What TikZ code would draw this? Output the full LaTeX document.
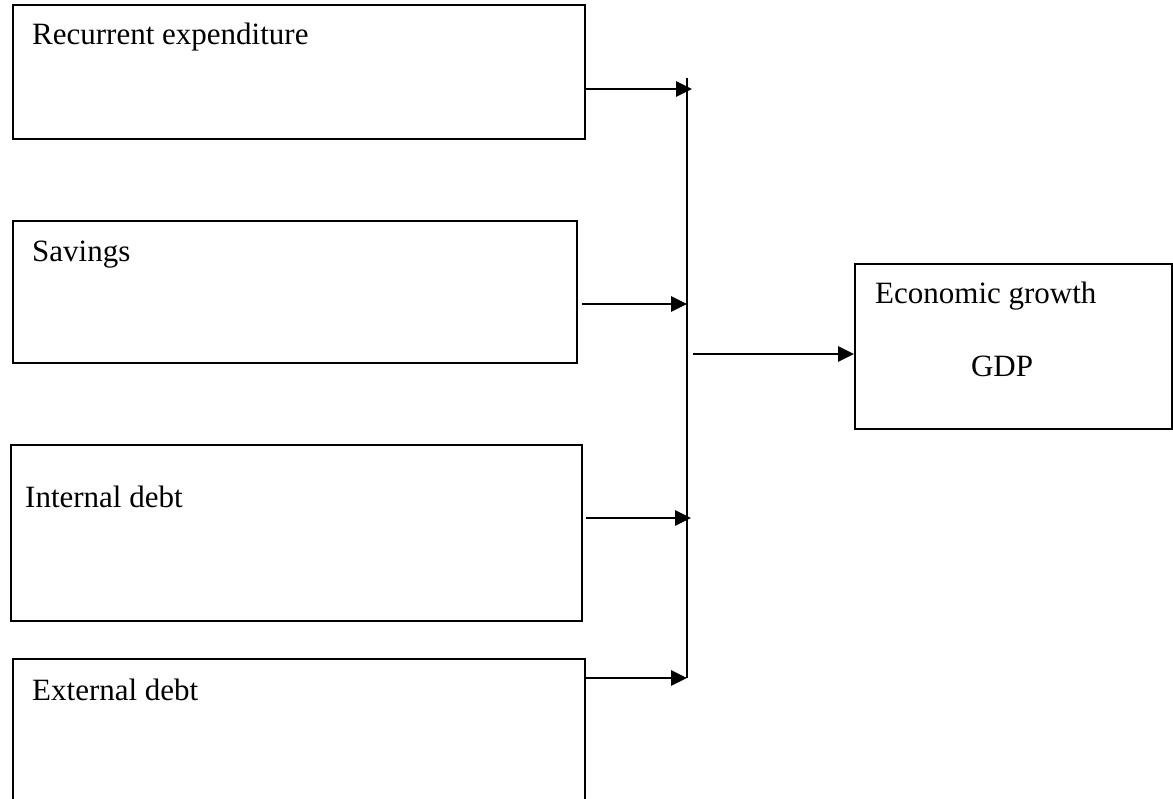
\documentclass[tikz,border=0pt]{standalone}
\usepackage{fontspec}
\setmainfont{Liberation Serif}
\usetikzlibrary{arrows.meta}

\begin{document}
\begin{tikzpicture}[x=1pt,y=-1pt,>={Triangle[length=16pt,width=15pt]},
    box/.style={draw,rectangle,line width=2pt,anchor=north west,inner sep=0pt},
    txt/.style={anchor=base west,inner sep=0pt,font=\fontsize{31}{36}\selectfont},
    link/.style={->,line width=2.8pt},bus/.style={line width=2pt}]
    \useasboundingbox (0,0) rectangle (1173,799);
    \clip (0,0) rectangle (1173,799);

    \node[box,minimum width=572pt,minimum height=134pt] (rec) at (12,4) {};
    \node[box,minimum width=564pt,minimum height=142pt] (sav) at (12,220) {};
    \node[box,minimum width=571pt,minimum height=176pt] (int) at (10,444) {};
    \node[box,minimum width=572pt,minimum height=170pt] (ext) at (12,658) {};
    \node[box,minimum width=317pt,minimum height=165pt] (gdp) at (854,263) {};

    \node[txt] (rectxt) at (32,45) {Recurrent expenditure};
    \node[txt] (savtxt) at (32,262) {Savings};
    \node[txt] (inttxt) at (25,507) {Internal debt};
    \node[txt] (exttxt) at (32,700) {External debt};
    \node[txt] (gdptxt) at (875,304) {Economic growth};
    \node[txt,anchor=base] (gdpabbr) at (1002,377) {GDP};

    % joining line
    \coordinate (bustop) at (687,78);
    \coordinate (j1) at (692,89);
    \coordinate (j2) at (687,304);
    \coordinate (j3) at (691,518);
    \coordinate (j4) at (687,678);
    \coordinate (busout) at (693,354);
    \draw[bus] (bustop) -- (j4);

    \path[link]
    (rec.east |- j1) edge (j1)
    (sav.east |- j2) edge[shorten <=4pt] (j2)
    (int.east |- j3) edge[shorten <=3pt] (j3)
    (ext.east |- j4) edge (j4)
    (busout) edge (gdp.west |- busout);
\end{tikzpicture}
\end{document}
